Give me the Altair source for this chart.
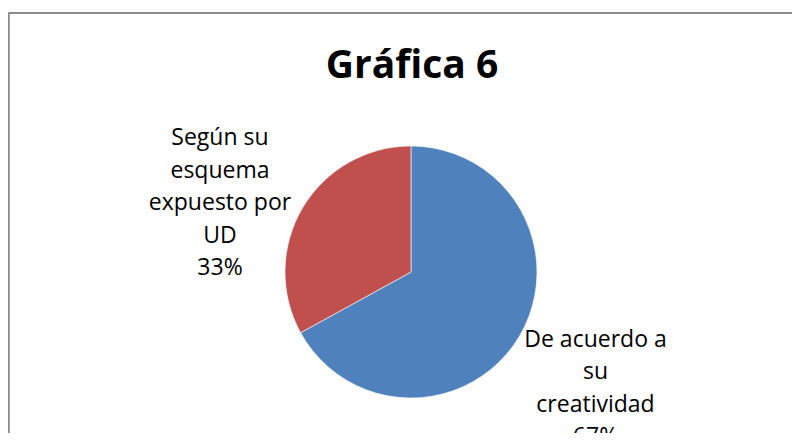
import altair as alt
import pandas as pd

# Data
categorias = ["De acuerdo a su creatividad", "Según su esquema expuesto por UD"]
valores = [67, 33]
lineas_etiqueta = ["De acuerdo a\nsu\ncreatividad", "Según su\nesquema\nexpuesto por\nUD"]
colores = ["#4F81BD", "#C0504D"]
titulo = "Gráfica 6"

df = pd.DataFrame({
    "categoria": categorias,
    "valor": valores,
    "linea": lineas_etiqueta,
})
df["etiqueta"] = df["linea"] + "\n" + df["valor"].astype(str) + "%"

PAD_TOP = 4
W, H = 784, 425 - PAD_TOP
CX, CY = 403, 260
FONT = "Open Sans"

base = alt.Chart(df)

theta = alt.Theta("valor:Q", stack=True)
order = alt.Order("categoria:N", sort="ascending")

pie = base.mark_arc(outerRadius=126, stroke="#ffffff", strokeWidth=0.6).encode(
    theta=theta,
    color=alt.Color("categoria:N",
                    scale=alt.Scale(domain=categorias, range=colores),
                    legend=None),
    order=order,
    x=alt.value(CX),
    y=alt.value(CY),
)

def label_layer(cat, dx, dy):
    return base.mark_text(
        radius=150, dx=dx, dy=dy, align="center", baseline="alphabetic",
        lineBreak="\n", lineHeight=32.5, font=FONT, fontSize=23, color="#000000",
    ).encode(
        theta=theta,
        order=order,
        text=alt.condition(alt.datum.categoria == cat,
                           alt.Text("etiqueta:N"), alt.value("")),
        x=alt.value(CX),
        y=alt.value(CY),
    )

lab_blue = label_layer(categorias[0], 55.4, -1.4)
lab_red = label_layer(categorias[1], -61.9, -50.6)

frame_left = base.mark_rule(color="#8c8c8c", strokeWidth=2).encode(
    x=alt.value(0.5), y=alt.value(1), y2=alt.value(H + 10),
)
frame_top = base.mark_rule(color="#8c8c8c", strokeWidth=2).encode(
    x=alt.value(0.5), x2=alt.value(W + 10), y=alt.value(1),
)

chart = alt.layer(pie, lab_blue, lab_red, frame_left, frame_top).properties(
    width=W,
    height=H,
    title=alt.TitleParams(
        text=titulo, font=FONT, fontSize=39, fontWeight="bold", color="#000000",
        anchor="middle", frame="group", baseline="alphabetic", dx=12, dy=105,
        offset=0,
    ),
    autosize=alt.AutoSizeParams(type="none"),
    padding={"left": 0, "top": PAD_TOP, "right": 0, "bottom": 0},
    background="#ffffff",
).configure_view(stroke=None)

chart.save("out.html", embed_options={"renderer": "svg", "actions": False})
